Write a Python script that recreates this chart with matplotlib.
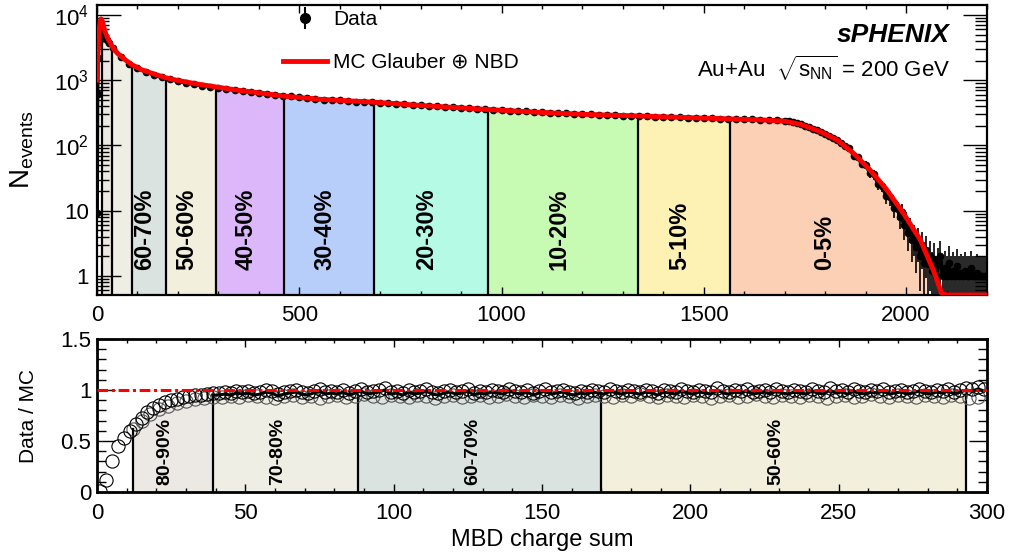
import numpy as np
import matplotlib
matplotlib.use("Agg")
import matplotlib.pyplot as plt
from matplotlib.lines import Line2D
from matplotlib.ticker import (FixedLocator, MultipleLocator, LogLocator,
                               NullFormatter, FuncFormatter)

plt.rcParams['font.family'] = ['Liberation Sans', 'DejaVu Sans']
plt.rcParams['mathtext.fontset'] = 'custom'
plt.rcParams['mathtext.rm'] = 'Liberation Sans'
plt.rcParams['mathtext.it'] = 'Liberation Sans:italic'
plt.rcParams['mathtext.bf'] = 'Liberation Sans:bold'

# --- data ---
# top panel: MBD charge sum distribution (data)
low_x = [0.5, 1.5, 3, 5, 7, 9, 12, 15, 20, 25, 30]
low_y = [9.3, 620, 2200, 3900, 4700, 5000, 5200, 5000, 4600, 4100, 3700]
mid_x = np.arange(40, 1701, 20)
mid_y = [3150, 2300, 1800, 1530, 1340, 1210, 1100, 1030, 960, 915,
         860, 820, 790, 765, 735, 705, 690, 660, 640, 615,
         600, 575, 565, 545, 530, 520, 505, 500, 490, 480,
         470, 465, 455, 445, 440, 432, 425, 418, 410, 402,
         398, 390, 385, 376, 372, 363, 358, 352, 350, 343,
         338, 334, 326, 322, 318, 315, 309, 306, 301, 299,
         296, 292, 290, 286, 284, 281, 279, 277, 274, 272,
         269, 267, 265, 262, 261, 258, 257, 254, 252, 250,
         248, 246, 244, 241]
fall_x = np.arange(1710, 1981, 10)
fall_y = [236, 228, 222, 210, 200, 192, 178, 172, 158, 150,
          140, 128, 122, 108, 98, 90, 70, 66, 52, 50,
          38, 36, 26, 24, 17, 16, 11, 10.5]
tail_x = np.arange(1985, 2201, 5)
tail_y = [8.0, 9.5, 6.0, 7.0, 4.5, 5.5, 3.5, 4.0, 2.8, 3.5,
          2.0, 3.0, 1.6, 2.5, 1.5, 2.0, 1.2, 1.8, 1.0, 1.5,
          2.0, 1.0, 1.3, 1.0, 1.6, 1.0, 1.2, 1.0, 1.4, 1.0,
          1.1, 1.0, 1.2, 1.0, 1.0, 1.3, 1.0, 1.0, 1.1, 1.0,
          1.0, 1.0, 1.0, 1.0]

# MC Glauber + NBD fit
mc_x = [0, 2, 4, 6, 8, 10, 12, 15, 20, 25, 30, 38, 50, 70, 86, 110, 140, 170,
        200, 250, 293, 350, 400, 462, 550, 685, 800, 967, 1100, 1200, 1338,
        1450, 1565, 1650, 1700, 1740, 1787, 1829, 1870, 1911, 1952, 1993,
        2035, 2068, 2088, 2100, 2200]
mc_y = [1000, 2500, 4500, 6500, 8000, 8700, 8500, 7300, 5500, 4600, 4000,
        3240, 2600, 2050, 1730, 1450, 1250, 1090, 990, 870, 790, 700, 640,
        570, 510, 460, 410, 355, 320, 300, 283, 268, 255, 245, 235, 210, 164,
        122, 76, 42, 21, 9.2, 3.6, 1.2, 0.54, 0, 0]

# centrality classes in the top panel
cent_edges = [12, 38, 86, 170, 293, 462, 685, 967, 1338, 1565, 2050]
cent_labels = ['80-90%', '70-80%', '60-70%', '50-60%', '40-50%', '30-40%',
               '20-30%', '10-20%', '5-10%', '0-5%']
cent_colors = ['#ece8e4', '#eeeee5', '#dbe3e0', '#f2efdc', '#dcb8fa',
               '#b8cefa', '#b4fae4', '#c7fbb4', '#fdf2b4', '#fcd0b4']

# bottom panel: data / MC ratio
ratio_x = np.arange(1, 300, 2)
ratio_y = [0.01, 0.12, 0.30, 0.45, 0.53, 0.60, 0.67, 0.73, 0.78, 0.82,
           0.85, 0.88, 0.90, 0.91, 0.93, 0.94, 0.95, 0.95, 0.96, 0.97,
           0.97, 0.98, 0.97, 0.99, 0.98, 0.99, 0.97, 0.98, 1.00, 0.99,
           0.96, 0.98, 0.99, 1.00, 0.98, 0.97, 0.99, 1.01, 0.98, 0.99,
           0.98, 1.00, 0.97, 0.99, 1.01, 0.98, 0.99, 1.00, 1.02, 0.98,
           0.99, 0.97, 1.00, 0.98, 0.99, 1.01, 0.98, 0.97, 0.99, 1.00,
           0.98, 0.99, 1.01, 0.97, 0.99, 0.98, 1.00, 0.99, 0.98, 1.01,
           0.99, 0.98, 1.00, 0.97, 0.99, 1.01, 0.98, 0.99, 1.00, 0.98,
           0.97, 0.99, 0.98, 1.00, 0.99, 0.98, 1.01, 0.99, 0.98, 1.00,
           0.99, 0.98, 1.00, 0.99, 0.97, 1.00, 0.99, 0.98, 1.01, 0.99,
           0.98, 1.00, 0.99, 0.98, 1.02, 0.99, 0.98, 1.00, 0.99, 1.01,
           0.98, 0.99, 1.00, 0.98, 1.01, 0.99, 0.98, 1.00, 0.99, 0.98,
           1.01, 0.99, 0.98, 1.02, 0.99, 1.00, 0.98, 1.01, 0.99, 0.98,
           1.00, 0.99, 1.01, 0.98, 0.99, 1.00, 0.98, 0.99, 1.01, 0.99,
           0.98, 1.00, 0.99, 1.01, 0.98, 1.00, 1.02, 1.01, 1.03, 1.01]
ratio2_x = np.arange(12, 298, 3)
ratio2_y = [0.62, 0.70, 0.76, 0.81, 0.84, 0.87, 0.89, 0.91, 0.92, 0.93,
            0.93, 0.94, 0.93, 0.95, 0.94, 0.93, 0.92, 0.94, 0.95, 0.93,
            0.94, 0.92, 0.94, 0.95, 0.93, 0.94, 0.96, 0.94, 0.93, 0.95,
            0.94, 0.93, 0.95, 0.94, 0.92, 0.94, 0.95, 0.93, 0.94, 0.95,
            0.93, 0.94, 0.96, 0.94, 0.93, 0.95, 0.94, 0.93, 0.95, 0.94,
            0.92, 0.94, 0.95, 0.94, 0.93, 0.95, 0.94, 0.96, 0.94, 0.93,
            0.95, 0.94, 0.93, 0.95, 0.94, 0.92, 0.94, 0.95, 0.93, 0.94,
            0.96, 0.94, 0.93, 0.95, 0.94, 0.93, 0.95, 0.94, 0.92, 0.94,
            0.95, 0.93, 0.94, 0.96, 0.94, 0.93, 0.95, 0.94, 0.93, 0.95,
            0.94, 0.93, 0.95, 0.94, 0.92, 0.93]
ratio_edges = [12, 39, 88, 170, 293]
ratio_labels = ['80-90%', '70-80%', '60-70%', '50-60%']
ratio_colors = ['#ece8e4', '#eeeee5', '#dbe3e0', '#f2efdc']

data_x = np.concatenate([low_x, mid_x, fall_x, tail_x]).astype(float)
data_y = np.concatenate([low_y, mid_y, fall_y, tail_y]).astype(float)

Y_LO, Y_HI = 0.51, 1.42e4

W, H = 1010, 556
fig = plt.figure(figsize=(W / 100, H / 100), dpi=100)
ax1 = fig.add_axes([97 / W, 1 - 295 / H, 890 / W, 290 / H])
ax2 = fig.add_axes([97 / W, 1 - 492 / H, 890 / W, 153 / H])


def data_at(x):
    return 10 ** np.interp(x, data_x, np.log10(data_y))


# --- top panel ---
for lo, hi, col in zip(cent_edges[:-1], cent_edges[1:], cent_colors):
    inner = data_x[(data_x > lo) & (data_x < hi)]
    xs = np.concatenate([[lo], inner, [hi]])
    ax1.fill_between(xs, Y_LO, data_at(xs), color=col, lw=0, zorder=1)
for e in cent_edges[:-1]:
    ax1.plot([e, e], [Y_LO, data_at(e)], color='black', lw=1.6, zorder=2)
for lo, hi, lab in zip(cent_edges[2:-1], cent_edges[3:], cent_labels[2:]):
    ax1.text((lo + hi) / 2 - 10, 1.25, lab, rotation=90, ha='center',
             va='bottom', fontsize=17, fontweight='bold', zorder=3)

err_lo = np.minimum(np.sqrt(data_y), data_y - 0.3)
ax1.errorbar(data_x, data_y, yerr=[err_lo, np.sqrt(data_y)], fmt='o',
             color='black', ms=4.5, lw=1.2, capsize=0, zorder=4)
ax1.plot(data_x, data_y, color='black', lw=2.5, zorder=4)
ax1.plot(mc_x, np.maximum(mc_y, Y_LO), color='#ff0000', lw=3.5, zorder=5,
         solid_joinstyle='round')

ax1.set_xlim(0, 2200)
ax1.set_yscale('log')
ax1.set_ylim(Y_LO, Y_HI)
ax1.xaxis.set_major_locator(MultipleLocator(500))
ax1.xaxis.set_minor_locator(MultipleLocator(100))
ax1.yaxis.set_major_locator(FixedLocator([1, 10, 100, 1000, 10000]))
ax1.yaxis.set_minor_locator(LogLocator(base=10, subs=np.arange(2, 10)))
ax1.yaxis.set_minor_formatter(NullFormatter())
ax1.yaxis.set_major_formatter(FuncFormatter(
    lambda v, p: {1: '1', 10: '10'}.get(int(round(v)),
                                        r'$10^{%d}$' % round(np.log10(v)))))
ax1.tick_params(which='both', direction='in', top=True, right=True,
                labelsize=16)
ax1.tick_params(axis='x', which='major', length=6, width=1, pad=7)
ax1.tick_params(axis='x', which='minor', length=3, width=1)
ax1.tick_params(axis='y', which='major', length=17, width=1, pad=6)
ax1.tick_params(axis='y', which='minor', length=8.5, width=1)
for s in ax1.spines.values():
    s.set_linewidth(1.6)

h_data = (Line2D([], [], marker='o', color='black', ms=7, ls='none'),
          Line2D([], [], marker='|', color='black', ms=16, mew=1.5, ls='none'))
h_mc = Line2D([], [], color='#ff0000', lw=3.5)
ax1.legend([h_data, h_mc], ['Data', r'MC Glauber ⊕ NBD'],
           loc='upper left', bbox_to_anchor=(283 / W, 1 - 10 / H),
           bbox_transform=fig.transFigure, frameon=False, fontsize=15,
           handlelength=2.1, handletextpad=0.3, labelspacing=1.15,
           borderpad=0, borderaxespad=0)

fig.text(950 / W, 1 - 35 / H, 'sPHENIX', ha='right', va='center',
         fontsize=19, fontweight='bold', fontstyle='italic')
fig.text(950 / W, 1 - 68 / H,
         r'Au+Au  $\sqrt{\mathrm{s}_{\mathrm{NN}}}$ = 200 GeV',
         ha='right', va='center', fontsize=16)
fig.text(22 / W, 1 - 150 / H, r'N$_{\rm events}$', rotation=90,
         ha='center', va='center', fontsize=20)

# --- bottom panel ---
for lo, hi, col in zip(ratio_edges[:-1], ratio_edges[1:], ratio_colors):
    inner = ratio2_x[(ratio2_x > lo) & (ratio2_x < hi)]
    xs = np.concatenate([[lo], inner, [hi]])
    ax2.fill_between(xs, 0, np.interp(xs, ratio2_x, ratio2_y), color=col,
                     lw=0, zorder=1)
for e in ratio_edges:
    ax2.plot([e, e], [0, np.interp(e, ratio2_x, ratio2_y)], color='black',
             lw=1.6, zorder=2)
for lo, hi, lab in zip(ratio_edges[:-1], ratio_edges[1:], ratio_labels):
    ax2.text((lo + hi) / 2 - 2.5, 0.07, lab, rotation=90, ha='center',
             va='bottom', fontsize=14, fontweight='bold', zorder=3)

ax2.plot(ratio2_x, ratio2_y, 'o', mfc='none', mec='#555555', ms=9.5,
         mew=0.8, zorder=3)
ax2.plot(ratio_x[19:], np.array(ratio_y[19:]) - 0.02, color='black',
         lw=2.2, zorder=3)
ax2.plot(ratio_x, ratio_y, 'o', mfc='none', mec='black', ms=9.5, mew=0.8,
         zorder=4)
ax2.axhline(1.0, color='#ff0000', lw=2.2, ls=(0, (3.5, 1.2, 1, 1.2)),
            zorder=5)

ax2.set_xlim(0, 300)
ax2.set_ylim(0, 1.5)
ax2.xaxis.set_major_locator(MultipleLocator(50))
ax2.xaxis.set_minor_locator(MultipleLocator(10))
ax2.yaxis.set_major_locator(MultipleLocator(0.5))
ax2.yaxis.set_minor_locator(MultipleLocator(0.1))
ax2.yaxis.set_major_formatter(FuncFormatter(lambda v, p: f'{v:g}'))
ax2.tick_params(which='both', direction='in', top=True, right=True,
                labelsize=16)
ax2.tick_params(axis='x', which='major', length=6, width=1, pad=8)
ax2.tick_params(axis='x', which='minor', length=3, width=1)
ax2.tick_params(axis='y', which='major', length=13, width=1, pad=4)
ax2.tick_params(axis='y', which='minor', length=6.5, width=1)
for s in ax2.spines.values():
    s.set_linewidth(2)

fig.text(29 / W, 1 - 416 / H, 'Data / MC', rotation=90, ha='center',
         va='center', fontsize=15)
fig.text(542 / W, 1 - 540 / H, 'MBD charge sum', ha='center', va='center',
         fontsize=17)

fig.savefig('out.png', dpi=100)
